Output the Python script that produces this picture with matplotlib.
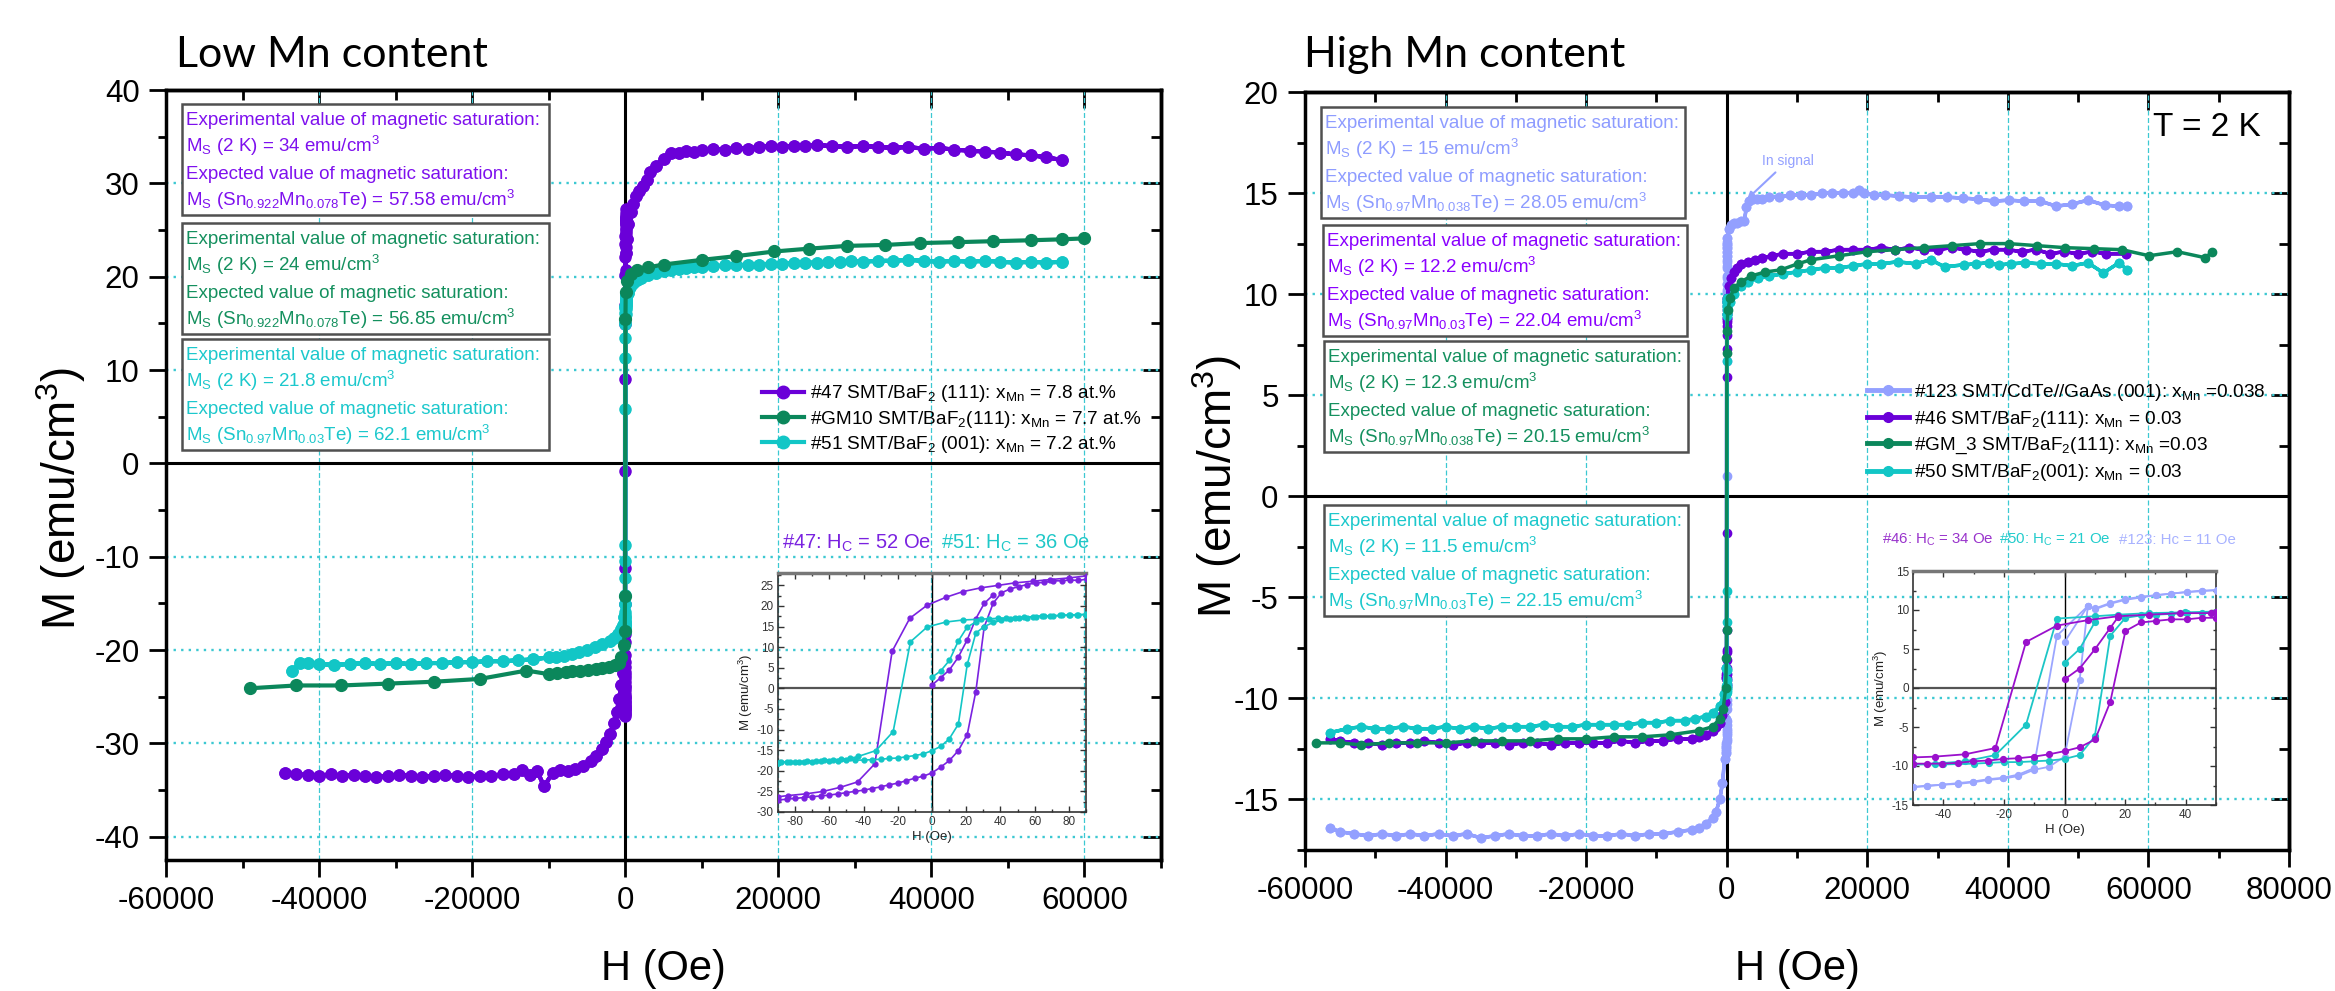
import numpy as np
import matplotlib
matplotlib.use('Agg')
import matplotlib.pyplot as plt
from matplotlib.ticker import MultipleLocator
from matplotlib.lines import Line2D
from matplotlib.patches import Rectangle

plt.rcParams['font.family'] = ['Liberation Sans', 'DejaVu Sans']
plt.rcParams['mathtext.fontset'] = 'custom'
plt.rcParams['mathtext.rm'] = 'Liberation Sans'
plt.rcParams['mathtext.it'] = 'Liberation Sans:italic'
plt.rcParams['mathtext.bf'] = 'Liberation Sans:bold'
plt.rcParams['mathtext.default'] = 'regular'
plt.rcParams['axes.unicode_minus'] = False

# ---------------- LEFT PANEL DATA (Low Mn) ----------------
h47_pos = [100, 200, 400, 700, 1000, 1400, 1800, 2300, 2800, 3300, 4000, 5000, 6000, 7000, 8000, 9000,
           10000, 11500, 13000, 14500, 16000, 17500, 19000, 20500, 22000, 23500, 25000, 27000, 29000,
           31000, 33000, 35000, 37000, 39000, 41000, 43000, 45000, 47000, 49000, 51000, 53000, 55000, 57000]
m47_pos = [22.5, 24.0, 25.6, 26.9, 27.8, 28.6, 29.2, 29.7, 30.4, 31.2, 31.9, 32.6, 33.2, 33.3, 33.5, 33.4,
           33.6, 33.7, 33.6, 33.8, 33.7, 33.9, 34.0, 33.9, 34.0, 34.0, 34.1, 34.0, 33.9,
           34.0, 33.9, 33.8, 33.9, 33.7, 33.8, 33.6, 33.5, 33.4, 33.3, 33.1, 33.0, 32.8, 32.5]
h47_neg = [-100, -300, -500, -800, -1100, -1500, -2000, -2500, -3000, -3800, -4500, -5500, -6500, -7500,
           -8500, -9500, -10600, -11500, -12500, -13500, -14500, -16000, -17500, -19000, -20500, -22000,
           -23500, -25000, -26500, -28000, -29500, -31000, -32500, -34000, -35500, -37000, -38500, -40000,
           -41500, -43000, -44500]
m47_neg = [-21.0, -22.5, -23.7, -25.3, -26.6, -27.8, -29.0, -29.9, -30.6, -31.4, -31.9, -32.4, -32.7, -33.0,
           -32.9, -33.2, -34.6, -33.0, -33.4, -32.9, -33.3, -33.3, -33.5, -33.5, -33.6, -33.5,
           -33.4, -33.5, -33.6, -33.5, -33.4, -33.5, -33.6, -33.5, -33.4, -33.5, -33.3, -33.5,
           -33.4, -33.3, -33.2]

h51_pos = [100, 300, 600, 1000, 1500, 2000, 3000, 4000, 5000, 6000, 7000, 8000, 9000, 10000, 11500, 13000,
           14500, 16000, 17500, 19000, 20500, 22000, 23500, 25000, 26500, 28000, 29500, 31000, 33000, 35000,
           37000, 39000, 41000, 43000, 45000, 47000, 49000, 51000, 53000, 55000, 57000]
m51_pos = [17.5, 18.3, 18.9, 19.3, 19.6, 19.9, 20.2, 20.4, 20.6, 20.7, 20.8, 20.9, 21.0, 21.0, 21.1, 21.2,
           21.2, 21.3, 21.3, 21.4, 21.4, 21.5, 21.5, 21.5, 21.6, 21.6, 21.7, 21.6, 21.7, 21.7,
           21.8, 21.7, 21.6, 21.7, 21.6, 21.7, 21.6, 21.5, 21.6, 21.5, 21.6]
h51_neg = [-100, -300, -600, -1000, -1500, -2000, -3000, -4000, -5000, -6000, -7000, -8000, -9000, -10000,
           -12000, -14000, -16000, -18000, -20000, -22000, -24000, -26000, -28000, -30000, -32000, -34000,
           -36000, -38000, -40000, -41500, -42500, -43600]
m51_neg = [-16.5, -17.3, -17.8, -18.3, -18.7, -19.0, -19.4, -19.7, -20.0, -20.2, -20.4, -20.6, -20.7, -20.8,
           -21.0, -21.1, -21.2, -21.2, -21.3, -21.3, -21.4, -21.4, -21.5, -21.4, -21.5, -21.4,
           -21.5, -21.6, -21.5, -21.4, -21.4, -22.3]

h10_pos = [200, 700, 1500, 3000, 5000, 10000, 14500, 19500, 24000, 29000, 34000, 38500, 43500, 48000,
           53000, 57000, 60000]
m10_pos = [19.5, 20.3, 20.7, 21.0, 21.3, 21.8, 22.2, 22.7, 23.0, 23.3, 23.4, 23.6, 23.7, 23.8,
           23.9, 24.0, 24.1]
h10_zero = [60, 30, -30, -60]
m10_zero = [18.4, 15.5, -14.2, -18.0]
h10_neg = [-200, -500, -800, -1300, -2100, -3000, -3800, -4800, -5900, -6900, -7800, -8900, -9900,
           -12900, -19000, -25000, -31000, -37100, -43000, -49000]
m10_neg = [-19.5, -20.8, -21.4, -21.6, -21.8, -21.9, -22.0, -22.1, -22.2, -22.3, -22.4, -22.5, -22.6,
           -22.2, -23.1, -23.4, -23.6, -23.8, -23.8, -24.1]

# inset (low field) loops, left panel
h47_in_desc = [90.3, 80, 69, 58.8, 48.4, 38.7, 28.6, 18.2, 8.1, -2.8, -13, -23.3, -33.4, -43.5, -53.5,
               -63.6, -73.8, -83.9, -90]
m47_in_desc = [27.3, 26.8, 26.4, 26.0, 25.6, 25.0, 24.4, 23.5, 22.1, 20.2, 17.0, 9.0, -18.3, -22.7, -24.0,
               -25.0, -25.6, -26.0, -26.3]
h47_in_asc = [-90, -85, -80, -75, -70, -65, -60, -55, -50, -45, -40, -35, -30, -25, -20, -15, -10, -5, 0,
              5.1, 10.2, 15.4, 20.6, 25.6, 30.5, 35.8, 40.6, 45.5, 50.7, 55.6, 60.7, 65.5, 70.8, 75.7,
              80.6, 85.5, 90.3]
m47_in_asc = [-27.1, -26.9, -26.7, -26.5, -26.3, -26.1, -25.9, -25.6, -25.3, -25.0, -24.7, -24.3, -23.9,
              -23.4, -23.0, -22.4, -21.8, -21.3, -20.5, -19.1, -17.5, -15.1, -11.2, -0.8, 14.9, 20.7, 23.2,
              24.1, 24.7, 25.2, 25.6, 25.7, 26.1, 26.1, 26.3, 26.2, 26.5]
h47_in_virgin = [0, 5.1, 10.2, 15.4, 20.6, 25.6, 30.5, 35.8]
m47_in_virgin = [0.8, 2.6, 4.5, 7.6, 11.8, 16.9, 20.6, 22.7]

h51_in_desc = [90, 85, 80, 75, 69, 64, 58.8, 53.6, 48.4, 43.5, 38.7, 33.6, 28.6, 18.2, 8.1, -2.8, -12.6,
               -22.7, -32.8, -43, -48, -53, -58, -63, -68, -73, -78, -83, -88, -90]
m51_in_desc = [18.0, 17.9, 17.8, 17.7, 17.6, 17.6, 17.4, 17.3, 17.2, 17.1, 17.0, 16.9, 16.8, 16.6, 16.1,
               14.9, 11.3, -10.5, -15.1, -16.5, -17.0, -17.2, -17.3, -17.5, -17.6, -17.7, -17.8, -17.8,
               -17.9, -18.0]
h51_in_asc = [-90, -85, -80, -75, -70, -65, -60, -55, -50, -45, -40, -35, -30, -25, -20, -15, -10, -5, 0,
              5, 10, 15.4, 20.6, 25.6, 30.5, 35.8, 40.6, 45.5, 50.7, 55.6, 60.7, 65.5, 70.8, 75.7, 80.6,
              85.5, 90]
m51_in_asc = [-18.0, -17.9, -17.9, -17.8, -17.8, -17.7, -17.7, -17.6, -17.5, -17.4, -17.4, -17.3, -17.2,
              -17.0, -16.9, -16.6, -16.3, -15.9, -15.1, -14.1, -12.3, -8.7, 5.8, 13.4, 15.0, 16.0, 16.5,
              16.8, 17.0, 17.2, 17.4, 17.5, 17.6, 17.7, 17.8, 17.8, 17.9]
h51_in_virgin = [0, 5, 10.2, 15.4, 20.6, 25.6]
m51_in_virgin = [2.7, 4.2, 6.8, 11.5, 14.9, 16.1]

# ---------------- RIGHT PANEL DATA (High Mn) ----------------
h123_pos = [100, 300, 600, 1000, 1500, 2000, 2500, 2800, 3200, 3700, 4300, 5000, 6000, 7500, 9000, 10500,
            12000, 13500, 15000, 16500, 18000, 18750, 19500, 21000, 22500, 24470, 26500, 29000, 31300,
            33600, 35800, 38000, 40100, 42300, 44600, 46900, 49100, 51400, 53800, 55800, 57000]
m123_pos = [12.8, 13.2, 13.4, 13.5, 13.5, 13.6, 13.6, 14.3, 14.6, 14.7, 14.7, 14.7, 14.8, 14.8, 14.9,
            14.9, 14.9, 15.0, 15.0, 15.0, 15.0, 15.15, 15.0, 14.9, 14.9, 14.85, 14.8, 14.8, 14.8,
            14.75, 14.7, 14.6, 14.65, 14.6, 14.6, 14.35, 14.45, 14.65, 14.4, 14.35, 14.35]
h123_neg = [-100, -300, -600, -1000, -1500, -2000, -3000, -4000, -5000, -7000, -9000, -11000, -13000,
            -15000, -17000, -19000, -21000, -23000, -25000, -27000, -29000, -31000, -33000, -35000,
            -37000, -39000, -41000, -43000, -45000, -47000, -49000, -51000, -53000, -55000, -56500]
m123_neg = [-11.0, -13.0, -14.2, -15.0, -15.6, -15.9, -16.2, -16.4, -16.5, -16.6, -16.7, -16.7, -16.8,
            -16.7, -16.8, -16.8, -16.7, -16.8, -16.7, -16.8, -16.8, -16.7, -16.8, -16.9, -16.7, -16.8,
            -16.7, -16.8, -16.7, -16.8, -16.7, -16.8, -16.7, -16.6, -16.4]

h46_pos = [100, 300, 600, 1000, 1500, 2000, 3000, 4000, 5000, 6500, 8000, 10000, 12000, 14000, 16000,
           18000, 20000, 22000, 24000, 26000, 28000, 30000, 32000, 34000, 36000, 38000, 40000, 42000,
           44000, 46000, 48000, 50000, 52000, 54000, 56800]
m46_pos = [9.8, 10.4, 10.8, 11.1, 11.3, 11.5, 11.6, 11.7, 11.8, 11.9, 12.0, 12.0, 12.1, 12.1, 12.2,
           12.2, 12.2, 12.3, 12.2, 12.3, 12.2, 12.2, 12.3, 12.2, 12.1, 12.2, 12.2, 12.1,
           12.2, 12.0, 12.1, 12.0, 12.1, 12.0, 12.0]
h46_neg = [-100, -300, -600, -1000, -1500, -2000, -3000, -4000, -5000, -7000, -9000, -11000, -13000,
           -15000, -17000, -19000, -21000, -23000, -25000, -27000, -29000, -31000, -33000, -35000,
           -37000, -39000, -41000, -43000, -45000, -47000, -49000, -51000, -53000, -55000, -56500]
m46_neg = [-9.0, -10.2, -10.8, -11.2, -11.4, -11.6, -11.8, -11.9, -12.0, -12.0, -12.1, -12.1, -12.2,
           -12.1, -12.2, -12.2, -12.2, -12.2, -12.3, -12.2, -12.2, -12.3, -12.2, -12.2, -12.2, -12.3,
           -12.2, -12.1, -12.2, -12.2, -12.3, -12.2, -12.2, -12.1, -12.0]

h3_pos = [150, 500, 1000, 2000, 3500, 5500, 7700, 10100, 12000, 16000, 20000, 24000, 28100, 32100, 36100,
          40100, 44100, 48100, 52200, 56200, 60100, 64100, 68100, 69100]
m3_pos = [9.2, 9.8, 10.3, 10.6, 10.9, 11.1, 11.2, 11.5, 11.7, 11.9, 12.1, 12.2, 12.3, 12.4, 12.5,
          12.5, 12.4, 12.3, 12.25, 12.2, 11.9, 12.1, 11.8, 12.1]
h3_zero = [40, 20, -20, -40]
m3_zero = [8.2, 7.1, -6.6, -8.0]
h3_neg = [-150, -500, -1000, -2000, -4000, -8000, -12000, -16000, -20000, -24000, -28000, -32000,
          -36000, -40000, -44000, -48000, -52000, -55000, -58500]
m3_neg = [-9.5, -10.5, -11.0, -11.4, -11.6, -11.8, -11.9, -11.9, -12.0, -12.0, -12.1, -12.1,
          -12.1, -12.2, -12.2, -12.2, -12.3, -12.2, -12.2]

h50_pos = [100, 400, 1000, 2000, 3000, 4500, 6000, 8000, 10000, 12000, 14000, 16000, 18000, 20000, 22000,
           24300, 26900, 29000, 31000, 33700, 35500, 37300, 38800, 40400, 42500, 44700, 46900, 49100,
           51400, 53600, 55800, 57000]
m50_pos = [9.0, 9.6, 10.0, 10.4, 10.6, 10.8, 10.9, 11.0, 11.1, 11.2, 11.3, 11.3, 11.4, 11.5, 11.5,
           11.6, 11.5, 11.7, 11.35, 11.45, 11.5, 11.55, 11.45, 11.5, 11.55, 11.5, 11.5, 11.4,
           11.55, 11.05, 11.55, 11.2]
h50_neg = [-100, -400, -1000, -2000, -3000, -4500, -6000, -8000, -10000, -12000, -14000, -16000, -18000,
           -20000, -22000, -24000, -26000, -28000, -30000, -32000, -34000, -36000, -38000, -40000,
           -42000, -44000, -46000, -48000, -50000, -52000, -54000, -56500]
m50_neg = [-8.5, -9.8, -10.4, -10.7, -10.9, -11.0, -11.1, -11.1, -11.2, -11.2, -11.3, -11.3, -11.3,
           -11.3, -11.4, -11.4, -11.3, -11.4, -11.4, -11.4, -11.5, -11.4, -11.5, -11.4, -11.5, -11.5,
           -11.4, -11.5, -11.5, -11.4, -11.5, -11.7]

# inset (low field) loops, right panel
h46_in_desc = [50, 48.2, 38.2, 27.8, 17.7, 7.7, -2.5, -12.7, -22.8, -32.8, -42.9, -50]
m46_in_desc = [9.7, 9.6, 9.6, 9.4, 9.2, 8.7, 8.0, 5.9, -7.7, -8.5, -8.8, -8.9]
h46_in_asc = [-50, -45.5, -40.4, -35.3, -30.3, -25.3, -20.2, -15.2, -10.2, -5.1, 0, 5, 10.1, 15.1, 20.1,
              25.2, 30.2, 35.2, 40.3, 45.3, 50]
m46_in_asc = [-9.7, -9.7, -9.7, -9.6, -9.4, -9.3, -9.1, -9.0, -8.8, -8.5, -8.1, -7.6, -6.6, -1.8, 7.3,
              8.4, 8.6, 8.8, 8.8, 9.0, 9.0]
h46_in_virgin = [0, 5, 10.1, 15.1, 17.7]
m46_in_virgin = [1.1, 2.5, 5.0, 7.7, 9.1]

h50_in_desc = [50, 39.8, 27.8, 17.7, 10.1, -2.5, -12.7, -22.8, -32.8, -42.9, -50]
m50_in_desc = [9.8, 9.7, 9.6, 9.4, 9.2, 8.9, -4.7, -8.6, -9.4, -9.7, -9.8]
h50_in_asc = [-50, -40, -30, -25, -20, -15, -10, -5, 0, 5, 10, 15.1, 20.1, 25.2, 30.2, 35.2, 40.3, 45.3, 50]
m50_in_asc = [-9.8, -9.8, -9.7, -9.6, -9.5, -9.5, -9.4, -9.3, -9.1, -8.6, -6.2, 6.7, 9.0, 9.3, 9.4, 9.5,
              9.6, 9.6, 9.7]
h50_in_virgin = [0, 5, 10.1]
m50_in_virgin = [3.2, 5.0, 8.5]

h123_in_desc = [50.2, 45.3, 40.3, 35.2, 30.2, 25.2, 20.1, 15.1, 10.1, 7.7, -2.5, -10.2, -15.2, -20.2,
                -25.3, -30.3, -35.3, -40.4, -45.5, -50]
m123_in_desc = [12.5, 12.5, 12.3, 12.1, 11.9, 11.6, 11.3, 10.8, 10.1, 10.5, 6.7, -10.3, -11.1, -11.5,
                -11.7, -12.0, -12.2, -12.4, -12.5, -12.7]
h123_in_asc = [-50, -45.5, -40.4, -35.3, -30.3, -25.3, -20.2, -15.2, -10.2, -5.1, 0, 5, 7.7, 10.1, 15.1,
               20.1, 25.2, 30.2, 35.2, 40.3, 45.3, 50.2]
m123_in_asc = [-12.7, -12.6, -12.4, -12.3, -12.1, -11.8, -11.6, -11.3, -10.5, -10.1, -8.8, 1.0, 10.5,
               10.2, 10.9, 11.4, 11.7, 11.9, 12.1, 12.3, 12.4, 12.6]
h123_in_virgin = [0, 7.7]
m123_in_virgin = [5.9, 10.5]

# ---------------- TEXT ----------------
legend_left = ['#47 SMT/BaF$_2$ (111): x$_{Mn}$ = 7.8 at.%',
               '#GM10 SMT/BaF$_2$(111): x$_{Mn}$ = 7.7 at.%',
               '#51 SMT/BaF$_2$ (001): x$_{Mn}$ = 7.2 at.%']
legend_right = ['#123 SMT/CdTe//GaAs (001): x$_{Mn}$ =0.038',
                '#46 SMT/BaF$_2$(111): x$_{Mn}$ = 0.03',
                '#GM_3 SMT/BaF$_2$(111): x$_{Mn}$ =0.03',
                '#50 SMT/BaF$_2$(001): x$_{Mn}$ = 0.03']

boxes_left = [
    ['Experimental value of magnetic saturation:', 'M$_S$ (2 K) = 34 emu/cm$^3$',
     'Expected value of magnetic saturation:', 'M$_S$ (Sn$_{0.922}$Mn$_{0.078}$Te) = 57.58 emu/cm$^3$'],
    ['Experimental value of magnetic saturation:', 'M$_S$ (2 K) = 24 emu/cm$^3$',
     'Expected value of magnetic saturation:', 'M$_S$ (Sn$_{0.922}$Mn$_{0.078}$Te) = 56.85 emu/cm$^3$'],
    ['Experimental value of magnetic saturation:', 'M$_S$ (2 K) = 21.8 emu/cm$^3$',
     'Expected value of magnetic saturation:', 'M$_S$ (Sn$_{0.97}$Mn$_{0.03}$Te) = 62.1 emu/cm$^3$'],
]
boxes_right = [
    ['Experimental value of magnetic saturation:', 'M$_S$ (2 K) = 15 emu/cm$^3$',
     'Expected value of magnetic saturation:', 'M$_S$ (Sn$_{0.97}$Mn$_{0.038}$Te) = 28.05 emu/cm$^3$'],
    ['Experimental value of magnetic saturation:', 'M$_S$ (2 K) = 12.2 emu/cm$^3$',
     'Expected value of magnetic saturation:', 'M$_S$ (Sn$_{0.97}$Mn$_{0.03}$Te) = 22.04 emu/cm$^3$'],
    ['Experimental value of magnetic saturation:', 'M$_S$ (2 K) = 12.3 emu/cm$^3$',
     'Expected value of magnetic saturation:', 'M$_S$ (Sn$_{0.97}$Mn$_{0.038}$Te) = 20.15 emu/cm$^3$'],
    ['Experimental value of magnetic saturation:', 'M$_S$ (2 K) = 11.5 emu/cm$^3$',
     'Expected value of magnetic saturation:', 'M$_S$ (Sn$_{0.97}$Mn$_{0.03}$Te) = 22.15 emu/cm$^3$'],
]

# ---------------- COLOURS ----------------
C_PUR = '#6A00D8'
C_GRN = '#0B875B'
C_CYN = '#12C6C6'
C_LBL = '#93A0FF'
C_PUR_IN_L = '#7A22E0'
C_PUR_IN_R = '#9A10CC'
C_GRID = '#3CC8D2'

W, Hpx = 2335, 991
fig = plt.figure(figsize=(W / 100, Hpx / 100), dpi=100)


def fx(px):
    return px / W


def fy(py):
    return 1 - py / Hpx


def full_loop(hp, mp, hd, md, hn, mn, ha, ma):
    H = list(hp[::-1]) + list(hd) + list(hn) + list(hn[::-1]) + list(ha) + list(hp)
    M = list(mp[::-1]) + list(md) + list(mn) + list(mn[::-1]) + list(ma) + list(mp)
    return H, M


def style_main(ax, xlim, ylim, ymaj, ymin_, grid_y, grid_x):
    ax.set_xlim(*xlim)
    ax.set_ylim(*ylim)
    ax.xaxis.set_major_locator(MultipleLocator(20000))
    ax.xaxis.set_minor_locator(MultipleLocator(10000))
    ax.yaxis.set_major_locator(MultipleLocator(ymaj))
    ax.yaxis.set_minor_locator(MultipleLocator(ymin_))
    ax.tick_params(which='major', direction='out', length=12, width=2, labelsize=22.5, pad=7,
                   top=False, right=False)
    ax.tick_params(which='minor', direction='out', length=6, width=2, top=False, right=False)
    for s in ax.spines.values():
        s.set_linewidth(2.5)
    sx = ax.secondary_xaxis('top')
    sx.xaxis.set_major_locator(MultipleLocator(20000))
    sx.xaxis.set_minor_locator(MultipleLocator(10000))
    sx.tick_params(which='major', direction='in', length=13, width=2, labeltop=False)
    sx.tick_params(which='minor', direction='in', length=7, width=2)
    sx.spines['top'].set_linewidth(2.5)
    sy = ax.secondary_yaxis('right')
    sy.yaxis.set_major_locator(MultipleLocator(ymaj))
    sy.yaxis.set_minor_locator(MultipleLocator(ymin_))
    sy.tick_params(which='major', direction='in', length=13, width=2, labelright=False)
    sy.tick_params(which='minor', direction='in', length=7, width=2)
    sy.spines['right'].set_linewidth(2.5)
    for g in grid_y:
        ax.axhline(g, color=C_GRID, lw=1.7, ls=(0, (1, 2.2)), zorder=0.5)
    for g in grid_x:
        ax.axvline(g, color=C_GRID, lw=0.9, ls=(0, (4, 2)), zorder=0.5)
    ax.axhline(0, color='black', lw=2.2, zorder=1)
    ax.axvline(0, color='black', lw=2.2, zorder=1)


def style_inset(ax, xlim, ylim, xmaj, xmin_, ymaj, ymin_):
    ax.set_facecolor('none')
    ax.set_xlim(*xlim)
    ax.set_ylim(*ylim)
    ax.xaxis.set_major_locator(MultipleLocator(xmaj))
    ax.xaxis.set_minor_locator(MultipleLocator(xmin_))
    ax.yaxis.set_major_locator(MultipleLocator(ymaj))
    ax.yaxis.set_minor_locator(MultipleLocator(ymin_))
    ax.tick_params(which='both', direction='in', top=True, right=True, labelsize=8.5,
                   colors='#333333', width=1)
    ax.tick_params(which='major', length=4, pad=3)
    ax.tick_params(which='minor', length=2)
    for s in ax.spines.values():
        s.set_linewidth(1.2)
        s.set_color('#333333')
    ax.spines['top'].set_color('#777777')
    ax.spines['top'].set_linewidth(2.5)
    ax.axhline(0, color='#555555', lw=1.6, zorder=1)
    ax.axvline(0, color='black', lw=1.0, zorder=1)
    ax.set_xlabel('H (Oe)', fontsize=9.5, color='#222222', labelpad=2)
    ax.set_ylabel('M (emu/cm$^3$)', fontsize=9.5, color='#222222', labelpad=1)


def text_box(x0, y0, w, h, lines, color, fs=13.5, step=27):
    fig.add_artist(Rectangle((fx(x0), fy(y0 + h)), w / W, h / Hpx, transform=fig.transFigure,
                             facecolor='white', edgecolor='#505050', lw=1.8, zorder=5))
    for i, t in enumerate(lines):
        fig.text(fx(x0 + 4), fy(y0 + 21 + i * step), t, color=color, fontsize=fs,
                 va='baseline', ha='left', zorder=6)


# ================= LEFT PANEL =================
axL = fig.add_axes([fx(166), fy(860), (1161 - 166) / W, (860 - 90) / Hpx])
style_main(axL, (-60000, 70000), (-42.5, 40), 10, 5,
           [30, 20, 10, -10, -20, -30, -40], [-40000, -20000, 20000, 40000, 60000])

H, M = full_loop(h47_pos, m47_pos, h47_in_desc, m47_in_desc, h47_neg, m47_neg, h47_in_asc, m47_in_asc)
axL.plot(H, M, '-o', color=C_PUR, lw=3, ms=8, zorder=2)
H, M = full_loop(h51_pos, m51_pos, h51_in_desc, m51_in_desc, h51_neg, m51_neg, h51_in_asc, m51_in_asc)
axL.plot(H, M, '-o', color=C_CYN, lw=3, ms=8, zorder=2.2)
axL.plot(list(h10_pos[::-1]) + h10_zero + h10_neg, list(m10_pos[::-1]) + m10_zero + m10_neg,
         '-o', color=C_GRN, lw=3, ms=8.5, zorder=2.4)

axL.set_xlabel('H (Oe)', fontsize=30)
axL.xaxis.set_label_coords(0.5, -0.115)
axL.set_ylabel('M (emu/cm$^3$)', fontsize=33)
axL.yaxis.set_label_coords(-0.078, 0.47)

hl = [Line2D([], [], color=c, marker='o', ms=9, lw=3) for c in (C_PUR, C_GRN, C_CYN)]
axL.legend(hl, legend_left, loc='upper left', bbox_to_anchor=(0.599, 0.619), frameon=False,
           fontsize=13.7, handlelength=2.2, handletextpad=0.3, labelspacing=0.22, borderpad=0,
           borderaxespad=0)

for (y0, lines, col) in zip([104, 223, 339], boxes_left, ['#7E10EE', '#14905E', '#1CC8CC']):
    text_box(182, y0, 367, 111, lines, col)

# left inset
axLi = fig.add_axes([fx(778), fy(812), (1086 - 778) / W, (812 - 573) / Hpx])
style_inset(axLi, (-90, 90), (-30, 28), 20, 10, 5, 2.5)
axLi.plot(h47_in_desc, m47_in_desc, '-o', color=C_PUR_IN_L, lw=1.2, ms=3.5, zorder=3)
axLi.plot(h47_in_asc, m47_in_asc, '-o', color=C_PUR_IN_L, lw=1.2, ms=3.5, zorder=3)
axLi.plot(h47_in_virgin, m47_in_virgin, '-o', color=C_PUR_IN_L, lw=1.2, ms=3.5, zorder=3)
axLi.plot(h51_in_desc, m51_in_desc, '-o', color=C_CYN, lw=1.2, ms=3.5, zorder=3)
axLi.plot(h51_in_asc, m51_in_asc, '-o', color=C_CYN, lw=1.2, ms=3.5, zorder=3)
axLi.plot(h51_in_virgin, m51_in_virgin, '-o', color=C_CYN, lw=1.2, ms=3.5, zorder=3)
fig.text(fx(782), fy(543), '#47: H$_C$ = 52 Oe', color='#7A22E0', fontsize=14.5, va='center')
fig.text(fx(941), fy(543), '#51: H$_C$ = 36 Oe', color='#20C8C8', fontsize=14.5, va='center')

fig.text(fx(176), fy(67), 'Low Mn content', fontsize=31, family='Lato', va='baseline')

# ================= RIGHT PANEL =================
axR = fig.add_axes([fx(1305), fy(850), (2289 - 1305) / W, (850 - 92) / Hpx])
style_main(axR, (-60000, 80000), (-17.5, 20), 5, 2.5,
           [15, 10, 5, -5, -10, -15], [-40000, -20000, 20000, 40000, 60000])

H, M = full_loop(h123_pos, m123_pos, h123_in_desc, m123_in_desc, h123_neg, m123_neg, h123_in_asc, m123_in_asc)
axR.plot(H, M, '-o', color=C_LBL, lw=2.5, ms=6, zorder=2)
H, M = full_loop(h46_pos, m46_pos, h46_in_desc, m46_in_desc, h46_neg, m46_neg, h46_in_asc, m46_in_asc)
axR.plot(H, M, '-o', color=C_PUR, lw=2.5, ms=6, zorder=2.1)
H, M = full_loop(h50_pos, m50_pos, h50_in_desc, m50_in_desc, h50_neg, m50_neg, h50_in_asc, m50_in_asc)
axR.plot(H, M, '-o', color=C_CYN, lw=2.5, ms=6, zorder=2.2)
axR.plot(list(h3_pos[::-1]) + h3_zero + h3_neg, list(m3_pos[::-1]) + m3_zero + m3_neg,
         '-o', color=C_GRN, lw=2.5, ms=6, zorder=2.3)

axR.set_xlabel('H (Oe)', fontsize=30)
axR.xaxis.set_label_coords(0.5, -0.13)
axR.set_ylabel('M (emu/cm$^3$)', fontsize=33)
axR.yaxis.set_label_coords(-0.062, 0.48)

axR.annotate('In signal', xy=(2900, 14.7), xytext=(8700, 16.6), color=C_LBL, fontsize=10,
             ha='center', va='center',
             arrowprops=dict(arrowstyle='-|>', color=C_LBL, lw=1.5, shrinkA=2, shrinkB=0))

hr = [Line2D([], [], color=c, marker='o', ms=7, lw=3.5) for c in (C_LBL, C_PUR, C_GRN, C_CYN)]
axR.legend(hr, legend_right, loc='upper left', bbox_to_anchor=(0.571, 0.618), frameon=False,
           fontsize=13.7, handlelength=2.2, handletextpad=0.3, labelspacing=0.32, borderpad=0,
           borderaxespad=0)

for (y0, x0, lines, col) in zip([107, 225, 341, 505], [1321, 1323, 1324, 1324], boxes_right,
                               ['#8E9CFF', '#8A00FF', '#14905E', '#1CC8CC']):
    text_box(x0, y0, 364, 111, lines, col)

fig.text(fx(2153), fy(127), 'T = 2 K', fontsize=24, va='center')
fig.text(fx(1304), fy(67), 'High Mn content', fontsize=31, family='Lato', va='baseline')

# right inset
axRi = fig.add_axes([fx(1913), fy(805), (2216 - 1913) / W, (805 - 571) / Hpx])
style_inset(axRi, (-50, 50), (-15, 15), 20, 10, 5, 2.5)
for hh, mm in ((h123_in_desc, m123_in_desc), (h123_in_asc, m123_in_asc), (h123_in_virgin, m123_in_virgin)):
    axRi.plot(hh, mm, '-o', color='#9BA6FF', lw=1.3, ms=4.2, zorder=3)
for hh, mm in ((h50_in_desc, m50_in_desc), (h50_in_asc, m50_in_asc), (h50_in_virgin, m50_in_virgin)):
    axRi.plot(hh, mm, '-o', color='#1CC6C6', lw=1.3, ms=4.2, zorder=3.1)
for hh, mm in ((h46_in_desc, m46_in_desc), (h46_in_asc, m46_in_asc), (h46_in_virgin, m46_in_virgin)):
    axRi.plot(hh, mm, '-o', color=C_PUR_IN_R, lw=1.3, ms=4.2, zorder=3.2)
fig.text(fx(1882), fy(540), '#46: H$_C$ = 34 Oe', color='#9933CC', fontsize=10.8, va='center')
fig.text(fx(1999), fy(540), '#50: H$_C$ = 21 Oe', color='#22CCCC', fontsize=10.8, va='center')
fig.text(fx(2119), fy(540), '#123: Hc = 11 Oe', color='#A8B2FF', fontsize=10.8, va='center')

fig.savefig('out.png', dpi=100)
